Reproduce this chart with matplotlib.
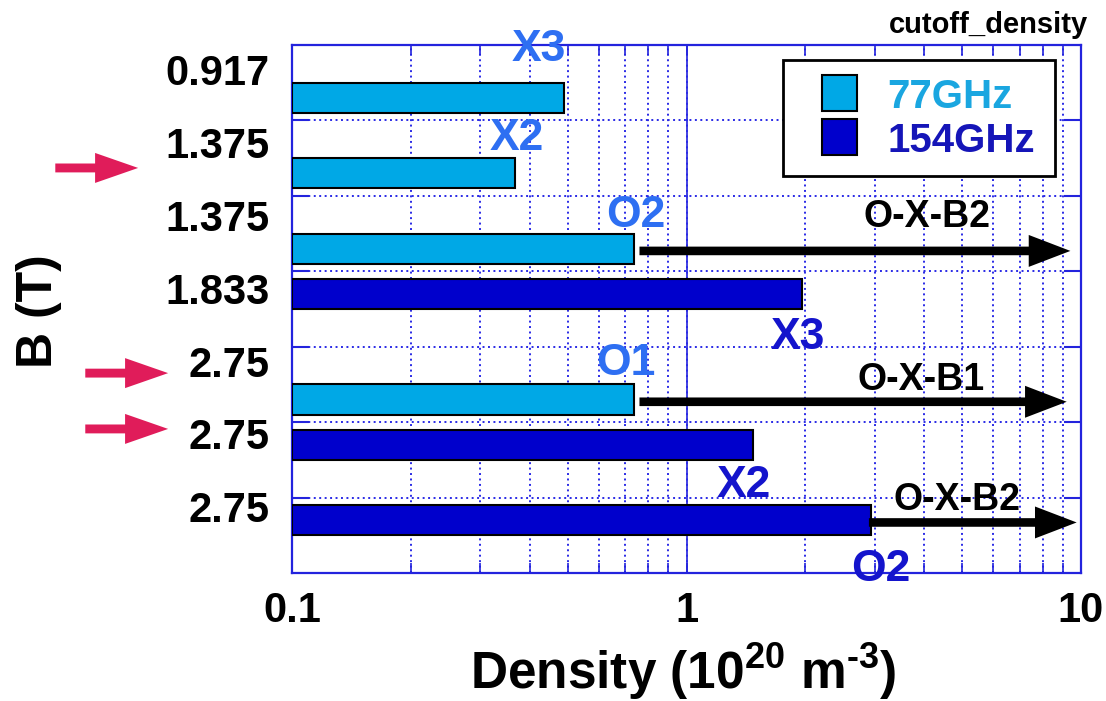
import matplotlib
matplotlib.use('Agg')
import matplotlib.pyplot as plt
from matplotlib.patches import Rectangle
from matplotlib.ticker import LogLocator, NullFormatter
import numpy as np

plt.rcParams['font.family'] = ['Liberation Sans', 'DejaVu Sans']
plt.rcParams['font.weight'] = 'bold'
plt.rcParams['mathtext.fontset'] = 'custom'
plt.rcParams['mathtext.rm'] = 'Liberation Sans:bold'
plt.rcParams['mathtext.default'] = 'rm'

# one row per heating scenario, listed top to bottom
b_field = ['0.917', '1.375', '1.375', '1.833', '2.75', '2.75', '2.75']
freq_ghz = [77, 77, 77, 154, 77, 154, 154]
cutoff = [0.49, 0.368, 0.735, 1.96, 0.735, 1.47, 2.94]   # 1e20 m^-3
mode = ['X3', 'X2', 'O2', 'X3', 'O1', 'X2', 'O2']

# O-X-B mode conversion extends the accessible density
ebw_rows = [2, 4, 6]
ebw_names = ['O-X-B2', 'O-X-B1', 'O-X-B2']
ebw_from = [0.76, 0.76, 2.90]
ebw_to = [9.4, 9.2, 9.75]

# rows singled out on the left
marked_rows = [1.63, 4.35, 5.09]

W, H = 1106, 701
frame_c = '#2323dd'
grid_c = '#2a2ae6'
col = {77: '#00a8e6', 154: '#0000cc'}
mode_c = {77: '#2e6ff2', 154: '#1414cc'}
legend_c = {77: '#1aa6e0', 154: '#1515b8'}

fig = plt.figure(figsize=(W / 100, H / 100), dpi=100)
ax_l, ax_r, ax_t, ax_b = 292, 1081, 45, 573
ax = fig.add_axes([ax_l / W, 1 - ax_b / H, (ax_r - ax_l) / W, (ax_b - ax_t) / H])

ax.set_xscale('log')
ax.set_xlim(0.1, 10)
ax.set_ylim(7, 0)

rows = np.arange(len(b_field))
bar_y = np.array([r + (0.7 if f == 77 else 0.3) for r, f in zip(rows, freq_ghz)])
for f in (77, 154):
    sel = [i for i in rows if freq_ghz[i] == f]
    ax.barh(bar_y[sel], [cutoff[i] - 0.1 for i in sel], left=0.1, height=0.4,
            color=col[f], edgecolor='black', linewidth=1.5, zorder=3)

# mode labels next to the bar ends
lab_dx = [-25, 2, 2, -4, -8, -9, 9]
lab_dy = [53, 39, 38, -39, 41, -36, -45]
for i in rows:
    ax.annotate(mode[i], xy=(cutoff[i], bar_y[i]), xytext=(lab_dx[i], lab_dy[i]),
                textcoords='offset pixels', ha='center', va='center_baseline',
                fontsize=32, color=mode_c[freq_ghz[i]],
                annotation_clip=False, zorder=5)

# conversion arrows
ebw_lab = [(4.08, 2.23), (3.94, 4.39), (4.86, 5.98)]
for k, r in enumerate(ebw_rows):
    y = bar_y[r] + 0.03
    ax.annotate('', xy=(ebw_to[k], y), xytext=(ebw_from[k], y),
                arrowprops=dict(arrowstyle='simple,head_length=1.5,head_width=1.15,tail_width=0.31',
                                fc='black', ec='none', mutation_scale=20,
                                shrinkA=0, shrinkB=0),
                annotation_clip=False, zorder=4)
    ax.text(ebw_lab[k][0], ebw_lab[k][1], ebw_names[k], ha='center',
            va='center_baseline', fontsize=27, color='black', zorder=5)

# axes, ticks, grid
label_pos = 0.33 + 0.965 * rows
ax.set_xticks([0.1, 1, 10], ['0.1', '1', '10'])
ax.xaxis.set_minor_locator(LogLocator(base=10, subs=np.arange(2, 10)))
ax.xaxis.set_minor_formatter(NullFormatter())
ax.tick_params(axis='x', which='both', direction='in', top=True, bottom=True,
               length=7, width=1.2, color=frame_c, labelsize=30, pad=13)
ax.set_yticks(label_pos, b_field)
ax.set_yticks(np.arange(1, 7), minor=True)
ax.tick_params(axis='y', which='major', length=0, pad=16, labelsize=30)
ax.tick_params(axis='y', which='minor', direction='in', left=True, right=True,
               length=12, width=1.5, color=frame_c)
ax.set_axisbelow(True)
ax.grid(axis='x', which='both', color=grid_c, ls=(0, (1, 1.8)), lw=1.4)
ax.grid(axis='y', which='minor', color=grid_c, ls=(0, (1, 1.8)), lw=1.4)
ax.axvline(1, color=frame_c, lw=1.2, zorder=0.5)
for s in ax.spines.values():
    s.set_color(frame_c)
    s.set_linewidth(1.6)

# legend box
def afrac(px, py):
    return (px - ax_l) / (ax_r - ax_l), (ax_b - py) / (ax_b - ax_t)

x0, y0 = afrac(783, 176)
x1, y1 = afrac(1055, 60)
ax.add_patch(Rectangle((x0, y0), x1 - x0, y1 - y0, transform=ax.transAxes,
                       facecolor='white', edgecolor='black', lw=2, zorder=6,
                       clip_on=False))
for f, top, name in ((77, 75, '77GHz'), (154, 119, '154GHz')):
    px0, py0 = afrac(822, top + 36)
    px1, py1 = afrac(857, top)
    ax.add_patch(Rectangle((px0, py0), px1 - px0, py1 - py0, transform=ax.transAxes,
                           facecolor=col[f], edgecolor='black', lw=1.5, zorder=7))
    tx, ty = afrac(887, top + 18)
    ax.text(tx, ty, name, transform=ax.transAxes, ha='left', va='center_baseline',
            fontsize=29, color=legend_c[f], zorder=7)

# red markers pointing at rows of interest
red_tail = [-0.300, -0.262, -0.262]
red_tip = [-0.195, -0.157, -0.157]
for k, y in enumerate(marked_rows):
    ax.annotate('', xy=(red_tip[k], y), xytext=(red_tail[k], y),
                xycoords=ax.get_yaxis_transform(),
                arrowprops=dict(arrowstyle='simple,head_length=1.55,head_width=1.08,tail_width=0.32',
                                fc='#e01c5a', ec='none', mutation_scale=20,
                                shrinkA=0, shrinkB=0),
                annotation_clip=False)

fig.text(1088 / W, 1 - 22 / H, 'cutoff_density', ha='right', va='center_baseline',
         fontsize=21)
fig.text(683 / W, 1 - 665 / H, 'Density (10$^{20}$ m$^{\u20103}$)', ha='center',
         va='center_baseline', fontsize=37)
fig.text(39 / W, 1 - 311 / H, 'B (T)', rotation=90, ha='center', va='center',
         fontsize=36)

fig.savefig('out.png', dpi=100)
